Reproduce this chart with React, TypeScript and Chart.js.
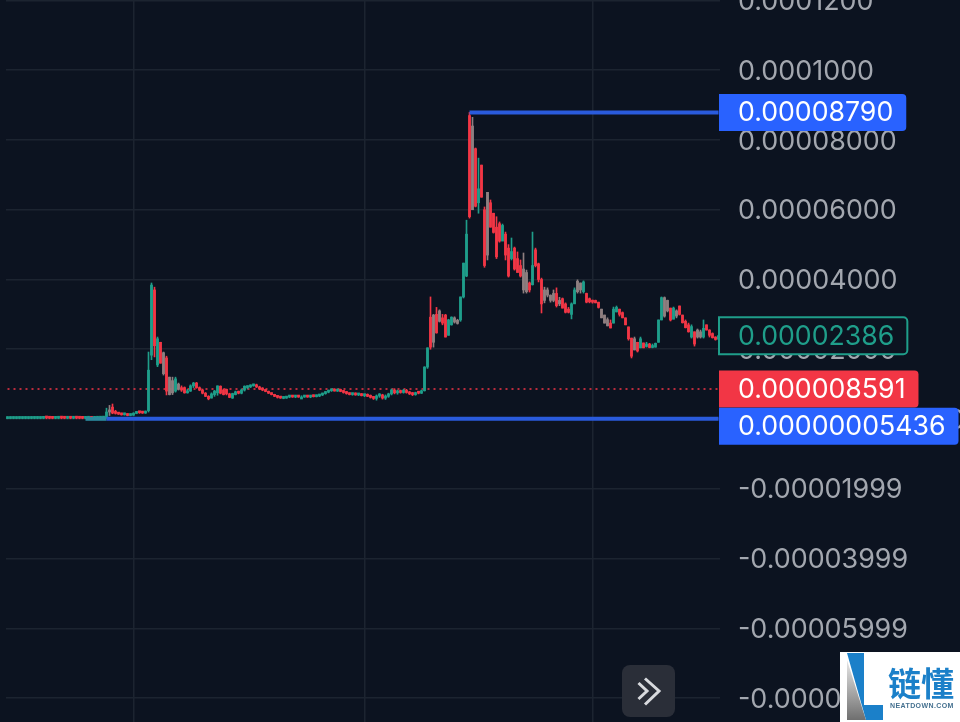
import React, { useEffect, useRef } from 'react';
import { Chart, registerables } from 'chart.js';

Chart.register(...registerables);

// prices are in units of 0.000001
const opens = [
  .12, .14, .15, .14, .16, .15, .16, .15, .16, .17,
  .17, .16, .2, .35, .3, .22, .2, .22, .3, .26,
  .22, .24, .22, .28, .25, .22, .2, .22, .24, .2,
  .22, .24, .26, .3, 2, 3.4, 2, 1.6, 1.4, 1.2,
  1.4, 1, 1.1, 1.6, 2, 1.8, 1.7, 2.4, 18.3, 37,
  15.5, 22, 19, 17.5, 12, 7.5, 8, 10, 9, 9,
  7.5, 8, 9.5, 10.3, 9, 8.3, 7.4, 6.5, 6, 7,
  7.5, 9.4, 8.3, 8.5, 7.2, 6, 7, 7.8, 7.4, 8.3,
  9, 9.2, 9.5, 9.8, 9.2, 8.7, 8.3, 7.9, 7.4, 7,
  6.5, 6.2, 5.9, 6, 6.3, 6.4, 6.3, 6.4, 6.3, 6.3,
  6.4, 6.3, 6.5, 6.4, 6.6, 6.9, 7.3, 7.7, 8.1, 8.3,
  8, 8.4, 7.9, 7.6, 7.3, 7, 7.2, 6.9, 7.1, 6.7,
  6.8, 6.5, 6.2, 5.9, 6.6, 6.9, 6, 6.5, 7.2, 8.3,
  7.5, 7.9, 7.6, 8.2, 7.6, 7.2, 7, 7.5, 7.4, 8.1,
  14.9, 29.2, 22, 30, 31, 29, 29.8, 24, 27, 29,
  28.3, 28.4, 35, 41, 87, 60, 77.5, 62, 72.8, 60,
  47, 62, 59, 55, 56, 51, 53, 49, 46, 49,
  46, 44, 37, 42, 39, 38.5, 48.5, 44.5, 40, 34,
  37, 35.5, 34, 36, 34, 34.5, 33, 31.5, 30, 33,
  39.5, 37, 36.5, 36, 34.5, 34, 34, 33.5, 31.5, 29.8,
  28.5, 27.5, 27.5, 30.7, 31.5, 30.5, 29, 26.4, 23.2, 19.8,
  22, 20.4, 21.8, 20.8, 21.5, 20.5, 20.6, 22, 28.4, 34.8,
  34, 31.8, 28.6, 29.5, 32.4, 29.8, 28, 27, 23.5, 25,
  23.5, 25, 23.5, 27, 25.5, 24.5, 23.5, 22.9,
];
const highs = [
  .3, .3, .3, .3, .3, .3, .3, .3, .3, .3,
  .3, .35, .5, .6, .45, .35, .3, .35, .4, .35,
  .3, .35, .35, .4, .35, .3, .3, .3, .35, .3,
  .3, .35, .4, 3.1, 3.9, 4.3, 2.5, 1.9, 1.6, 1.6,
  1.5, 1.3, 1.8, 2.1, 2.1, 2, 2.3, 19.2, 39, 37.8,
  23.5, 22, 19.2, 18, 12, 12, 12, 10.3, 9.5, 9.2,
  8.5, 9.8, 10.5, 10.5, 9.2, 8.6, 7.6, 6.7, 7.5, 8.2,
  9.5, 9.5, 8.6, 8.6, 7.4, 7.4, 8, 8, 8.6, 9.5,
  9.5, 9.8, 10, 10, 9.4, 9, 8.4, 8, 7.5, 7.1,
  6.6, 6.4, 6.4, 6.5, 6.6, 6.6, 6.5, 6.6, 6.5, 6.6,
  6.6, 6.6, 6.7, 6.8, 7, 7.4, 7.9, 8.3, 8.6, 8.7,
  8.6, 8.6, 8.2, 7.9, 7.5, 7.4, 7.5, 7.2, 7.3, 7,
  7.2, 6.9, 6.5, 6.9, 7.3, 7.1, 6.9, 7.4, 8.6, 8.7,
  8.3, 8.3, 8.5, 8.5, 7.9, 7.6, 7.7, 7.9, 8.3, 15,
  20.4, 35, 30, 32, 31.3, 30, 30, 28.6, 29.3, 29.3,
  28.6, 35, 44.7, 57, 87.9, 86.5, 77.7, 74.8, 72.8, 60.8,
  65, 62.8, 59, 58, 56.5, 55.9, 53.6, 50, 51.9, 49.3,
  47.9, 45.6, 47.6, 42.7, 39.3, 53.6, 49, 44.7, 40.4, 37.8,
  37.6, 35.6, 37, 37.6, 34.9, 34.7, 33.3, 32, 33.3, 37.6,
  39.9, 39, 39.6, 36.1, 34.7, 34.1, 34.1, 33.5, 31.5, 29.8,
  29, 28.4, 32.1, 32.4, 31.5, 30.7, 29, 26.4, 23.2, 23.5,
  22, 23.5, 21.8, 22, 21.7, 21.5, 21.8, 28.4, 35, 35,
  34.1, 31.8, 32.1, 31.3, 32.4, 29.8, 28.4, 27.5, 27, 25,
  25.8, 25.5, 28.4, 27, 25.6, 24.7, 23.6, 24,
];
const lows = [
  .06, .06, .06, .06, .06, .06, .06, .06, .06, .06,
  .06, .06, .06, .06, .06, .06, .06, .06, .06, .06,
  .06, .06, .06, .06, .06, .06, .06, .06, .06, .06,
  .06, .06, .06, .2, 1, 1.5, 1.4, 1.3, 1.1, 1.1,
  .9, .9, 1, 1.5, 1.6, 1.6, 1.6, 2, 17, 17.8,
  15, 16, 12.6, 6.9, 6.9, 7, 7.7, 8.3, 7.9, 7.4,
  7.4, 7.9, 9, 8.8, 8.1, 7.2, 6.4, 5.5, 6, 6.5,
  6.8, 7.2, 6.9, 6.9, 6.1, 5.9, 6.9, 7.2, 7.2, 8,
  8.6, 9, 9.4, 9, 8.4, 8.1, 7.8, 7.3, 6.9, 6.4,
  6, 5.9, 5.8, 5.9, 6.1, 6.2, 6.1, 6.2, 6.1, 6.2,
  6.2, 6.1, 6.3, 6.3, 6.4, 6.7, 7.1, 7.5, 7.9, 8,
  7.9, 7.8, 7.4, 7.1, 6.9, 6.8, 6.8, 6.7, 6.6, 6.4,
  6.4, 6, 5.6, 5.4, 6.2, 5.7, 5.6, 6.2, 6.9, 7.2,
  7.1, 7.4, 7.4, 7.4, 7, 6.7, 6.8, 7.2, 7.3, 8,
  14.5, 20, 20.6, 24.6, 27.8, 27, 23.5, 24, 26.9, 27.5,
  27.2, 28, 34.7, 40.8, 57.6, 60.8, 60.8, 59, 63.6, 43.5,
  45.6, 55, 53.3, 46, 50.7, 51.3, 45.6, 40.7, 45.6, 42.7,
  42.1, 40.7, 36.1, 36.1, 36.4, 38.4, 43.6, 39.3, 30.4, 33.3,
  35, 33.5, 33.6, 32.1, 32.5, 31.8, 30.4, 30.4, 28.7, 33.3,
  36.1, 36.1, 36.1, 33.3, 33.3, 33.2, 33.3, 31.8, 29, 27.5,
  26.7, 26.1, 27.5, 30.7, 29.5, 29, 27, 22.6, 17.5, 19.8,
  19.2, 20.4, 20.4, 20.6, 20.4, 20.4, 20.6, 22, 28.4, 29.2,
  30.7, 28.1, 28.7, 29, 29.8, 27.5, 26.1, 24.9, 23.2, 20.9,
  23.2, 23.2, 23.2, 25.5, 23.5, 23.2, 22.6, 22.8,
];
const closes = [
  .14, .15, .16, .16, .17, .16, .17, .16, .17, .18,
  .18, .2, .35, .3, .22, .2, .22, .3, .26, .22,
  .24, .22, .28, .25, .22, .2, .22, .24, .2, .22,
  .24, .26, .3, 2, 2.6, 1.7, 1.6, 1.4, 1.2, 1.4,
  1, 1.1, 1.6, 1.9, 1.8, 1.7, 2.2, 14, 38.4, 21,
  23, 16, 13, 8, 7, 11, 11.5, 8.5, 8.3, 7.5,
  8, 9.5, 10.3, 9, 8.3, 7.4, 6.5, 5.8, 7.2, 8,
  9.5, 7.4, 7, 7.2, 6.2, 7.3, 7.8, 7.4, 8.3, 9.4,
  9.2, 9.6, 9.8, 9.2, 8.6, 8.3, 7.9, 7.4, 7, 6.5,
  6.2, 6, 6.3, 6.3, 6.4, 6.3, 6.4, 6.3, 6.3, 6.4,
  6.3, 6.5, 6.4, 6.6, 6.9, 7.3, 7.7, 8.1, 8.3, 8,
  8.4, 7.9, 7.6, 7.3, 7, 7.2, 6.9, 7.1, 6.7, 6.8,
  6.5, 6.2, 5.9, 6.6, 6.9, 6, 6.5, 7.2, 8.3, 7.5,
  7.9, 7.6, 8.2, 7.6, 7.2, 7, 7.5, 7.4, 8.1, 14.9,
  20.4, 20.6, 29.8, 24.7, 28, 27.5, 23.5, 28.4, 29.2, 27.8,
  27.4, 35, 44.7, 53, 58, 84, 61, 66, 63.6, 44,
  65, 55, 53.5, 46.5, 51, 55.5, 47, 41, 48, 43,
  42, 41, 43, 36.5, 37, 44, 44, 40, 33, 37,
  35.5, 34, 36, 32.5, 33, 31.8, 30.6, 30.6, 33, 37,
  36.5, 39, 39.3, 33.5, 33.6, 33.5, 33.3, 32, 29, 27.5,
  26.7, 26.1, 31.5, 32, 30, 29, 27, 23, 18, 23,
  19.5, 23, 20.4, 21.5, 20.5, 20.7, 21.7, 28.4, 34.8, 29.5,
  31, 28.4, 31.8, 31, 30, 27.6, 26.2, 25, 26.5, 21.5,
  25.5, 23.5, 26, 25.5, 24, 23.3, 22.8, 23.86,
];
// candles that read as grey in the picture (up and down overlapping)
const mixedCandles = [34, 52, 54, 55, 57, 142, 144, 149, 150, 155, 160, 172, 173, 179, 180, 181, 182, 184, 190, 191, 198, 199, 200, 209, 219, 220, 223, 230, 231];

const tickValues = [120, 100, 80, 60, 40, 20, 0, -20, -40, -60, -80];
const tickLabels = ['0.0001200', '0.0001000', '0.00008000', '0.00006000', '0.00004000', '0.00002000', '0.000000000000', '-0.00001999', '-0.00003999', '-0.00005999', '-0.00007999'];
const monthTicks = [42, 119, 195];

const highPrice = 87.9;
const lowPrice = 0.05436;
const lastPrice = 23.86;
const markPrice = 8.591;
const highIndex = 154;
const lowIndex = 33;
const lowAnchorIndex = 26;

const BG = '#0c1320';
const UP = '#1f9e8a';
const DOWN = '#f23645';
const MIXED = '#8f7f80';
const BLUE = '#2962ff';
const LEVEL = '#2a5bdc';
const GRID = '#1c2430';

const priceTags = [
  { value: markPrice, text: '0.000008591', bg: DOWN, fg: '#ffffff', shift: 0, outline: false },
  { value: lastPrice, text: '0.00002386', bg: BG, fg: UP, shift: 0, outline: true },
  { value: highPrice, text: '0.00008790', bg: BLUE, fg: '#ffffff', shift: 0, outline: false },
  { value: lowPrice, text: '0.00000005436', bg: BLUE, fg: '#ffffff', shift: 7.5, outline: false },
];

const overlayPlugin = {
  id: 'overlay',
  afterDraw(chart: any) {
    const { ctx, chartArea, scales } = chart;
    ctx.save();
    ctx.font = '26.7px Inter';
    ctx.textBaseline = 'middle';
    for (const tag of priceTags) {
      const mid = scales.y.getPixelForValue(tag.value) + tag.shift;
      const left = chartArea.right - 1;
      const w = ctx.measureText(tag.text).width + 32;
      ctx.beginPath();
      ctx.roundRect(left, mid - 18.5, w, 37, [0, 4, 4, 0]);
      ctx.fillStyle = tag.bg;
      ctx.fill();
      if (tag.outline) {
        ctx.strokeStyle = tag.fg;
        ctx.lineWidth = 2;
        ctx.stroke();
      }
      ctx.fillStyle = tag.fg;
      ctx.textAlign = 'left';
      ctx.fillText(tag.text, left + 19, mid + 1);
    }

    // scroll-to-latest button
    ctx.beginPath();
    ctx.roundRect(622, 665, 53, 52, 8);
    ctx.fillStyle = '#2a2e38';
    ctx.fill();
    ctx.strokeStyle = '#d8dade';
    ctx.lineWidth = 3;
    ctx.beginPath();
    ctx.moveTo(638.5, 683);
    ctx.lineTo(647, 691);
    ctx.lineTo(638.5, 699);
    ctx.moveTo(645, 678.5);
    ctx.lineTo(659, 691);
    ctx.lineTo(645, 704.5);
    ctx.stroke();

    // watermark
    ctx.fillStyle = '#ffffff';
    ctx.fillRect(840, 652, 120, 70);
    const grey = ctx.createLinearGradient(0, 662, 0, 720);
    grey.addColorStop(0, '#e4e4e4');
    grey.addColorStop(1, '#6f6f6f');
    ctx.fillStyle = grey;
    ctx.beginPath();
    ctx.moveTo(847, 660);
    ctx.lineTo(866, 720);
    ctx.lineTo(847, 720);
    ctx.closePath();
    ctx.fill();
    ctx.fillStyle = '#1b80c9';
    ctx.beginPath();
    ctx.moveTo(847, 653);
    ctx.lineTo(864, 653);
    ctx.lineTo(864, 705);
    ctx.lineTo(883, 705);
    ctx.lineTo(883, 720);
    ctx.lineTo(866, 720);
    ctx.closePath();
    ctx.fill();
    ctx.font = '700 33px "Noto Sans CJK SC"';
    ctx.textAlign = 'left';
    ctx.fillText('链懂', 888, 683);
    ctx.font = '700 7px "Liberation Sans"';
    ctx.letterSpacing = '0.4px';
    ctx.fillStyle = '#44708f';
    ctx.fillText('NEATDOWN.COM', 890, 706);
    ctx.restore();
  },
};

const App: React.FC = () => {
  const chartRef = useRef<HTMLCanvasElement>(null);

  useEffect(() => {
    if (!chartRef.current) return;
    const categories = opens.map((_, i) => i);
    const candleColors = closes.map((c, i) =>
      mixedCandles.includes(i) ? MIXED : c >= opens[i] ? UP : DOWN,
    );
    const chart = new Chart(chartRef.current, {
      type: 'bar',
      data: {
        labels: categories,
        datasets: [
          {
            type: 'line',
            data: categories.map(() => markPrice),
            borderColor: '#f23645',
            borderWidth: 1.5,
            borderDash: [2, 4],
            pointRadius: 0,
            order: 5,
          },
          {
            data: lows.map((l, i) => [l, highs[i]]),
            backgroundColor: candleColors,
            barThickness: 1,
            grouped: false,
            minBarLength: 2,
            order: 4,
          },
          {
            data: opens.map((o, i) => [o, closes[i]]),
            backgroundColor: candleColors,
            barThickness: 2.2,
            grouped: false,
            minBarLength: 2,
            order: 3,
          },
          {
            type: 'line',
            data: categories.map((i) => (i >= lowAnchorIndex && i <= lowIndex ? lowPrice : null)),
            borderColor: '#2b8a9e',
            borderWidth: 4,
            pointRadius: 0,
            order: 2,
          },
          {
            type: 'line',
            data: categories.map((i) => (i >= lowIndex ? lowPrice : null)),
            borderColor: LEVEL,
            borderWidth: 4,
            pointRadius: 0,
            order: 1,
          },
          {
            type: 'line',
            data: categories.map((i) => (i >= highIndex ? highPrice : null)),
            borderColor: LEVEL,
            borderWidth: 4,
            pointRadius: 0,
            order: 1,
          },
        ] as any,
      },
      options: {
        animation: false,
        responsive: false,
        events: [],
        layout: { autoPadding: false, padding: { left: 6, right: 0, top: 0, bottom: 0 } },
        plugins: { legend: { display: false }, tooltip: { enabled: false } },
        scales: {
          x: {
            offset: true,
            border: { display: false },
            grid: { color: GRID, lineWidth: 1.5, offset: false, drawTicks: false },
            ticks: { display: false, autoSkip: false },
            afterBuildTicks: (axis: any) => {
              axis.ticks = monthTicks.map((value) => ({ value }));
            },
            afterFit: (axis: any) => {
              axis.height = 0;
              axis.paddingLeft = 0;
              axis.paddingRight = 0;
            },
          },
          y: {
            position: 'right',
            min: -86.88,
            max: 120.14,
            border: { display: false },
            grid: { color: GRID, lineWidth: 1.5, drawTicks: false },
            afterBuildTicks: (axis: any) => {
              axis.ticks = tickValues.map((value) => ({ value }));
            },
            afterFit: (axis: any) => {
              axis.width = 240;
              axis.paddingTop = 0;
              axis.paddingBottom = 0;
            },
            ticks: {
              autoSkip: false,
              padding: 18,
              color: '#a3a7af',
              // blank first line with a small lineHeight nudges the text down a little
              font: { family: 'Inter', size: 26.9, lineHeight: '3px' },
              callback: (value: any) => ['', tickLabels[tickValues.indexOf(value)]],
            },
          },
        },
      },
      plugins: [overlayPlugin],
    });
    return () => chart.destroy();
  }, []);

  return (
    <div style={{ position: 'fixed', inset: 0, background: BG }}>
      <canvas ref={chartRef} width={960} height={722} style={{ display: 'block' }} />
    </div>
  );
};

export default App;
